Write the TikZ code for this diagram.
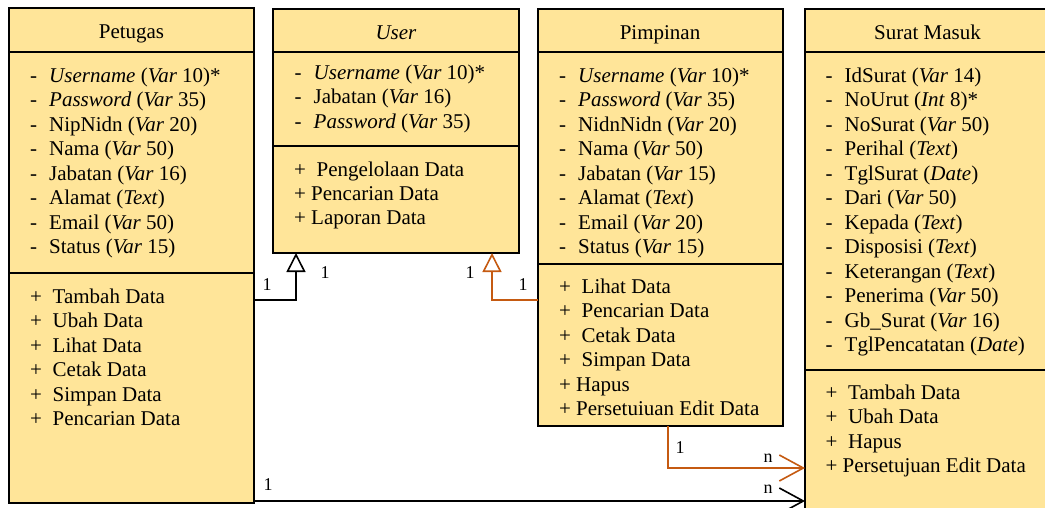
\documentclass[tikz,border=0pt]{standalone}
\usepackage{fontspec}
\setmainfont{Liberation Serif}
\usetikzlibrary{arrows.meta}
\definecolor{boxfill}{HTML}{FFE599}
\definecolor{linkorange}{HTML}{C55A11}
\newcommand\umlattr[1]{\makebox[19pt][l]{-}#1}
\newcommand\umlopw[1]{\makebox[22.5pt][l]{+}#1}
\newcommand\umlopn[1]{\makebox[17pt][l]{+}#1}
\begin{document}
\begin{tikzpicture}[x=1pt,y=-1pt,
  compart/.style={draw, line width=1.6pt, fill=boxfill, anchor=north west, inner sep=0pt, outer sep=0pt},
  txt/.style={anchor=base west, inner sep=0pt, font=\fontsize{21}{24.5}\selectfont},
  head/.style={anchor=base, inner sep=0pt, font=\fontsize{21}{24.5}\selectfont},
  lbl/.style={anchor=base, inner sep=0pt, font=\fontsize{18}{20}\selectfont},
  gen/.style={line width=1.6pt, -{Triangle[open,length=19pt,width=19pt]}},
  assoc/.style={line width=1.6pt, -{Straight Barb[length=24pt,width=26pt]}},
]
\useasboundingbox (0,0) rectangle (1045,507);

% ---------- Petugas ----------
\node[compart, minimum width=245pt, minimum height=44pt] (pet-h) at (9,8) {};
\node[compart, minimum width=245pt, minimum height=221pt] (pet-a) at (9,52) {};
\node[compart, minimum width=245pt, minimum height=230pt] (pet-o) at (9,273) {};
\node[head] (pet-t) at (131.5,38) {Petugas};
\foreach \t [count=\i] in {
  {\textit{Username} (\textit{Var} 10)*},
  {\textit{Password} (\textit{Var} 35)},
  {NipNidn (\textit{Var} 20)},
  {Nama (\textit{Var} 50)},
  {Jabatan (\textit{Var} 16)},
  {Alamat (\textit{Text})},
  {Email (\textit{Var} 50)},
  {Status (\textit{Var} 15)}}
  \node[txt] (pet-a\i) at (30,{82+24.5*(\i-1)}) {\umlattr{\t}};
\foreach \t [count=\i] in {Tambah Data, Ubah Data, Lihat Data, Cetak Data, Simpan Data, Pencarian Data}
  \node[txt] (pet-o\i) at (30,{303+24.5*(\i-1)}) {\umlopw{\t}};

% ---------- User ----------
\node[compart, minimum width=246pt, minimum height=43pt] (user-h) at (273,9) {};
\node[compart, minimum width=246pt, minimum height=94pt] (user-a) at (273,52) {};
\node[compart, minimum width=246pt, minimum height=107pt] (user-o) at (273,146) {};
\node[head] (user-t) at (396,39) {\textit{User}};
\foreach \t [count=\i] in {
  {\textit{Username} (\textit{Var} 10)*},
  {Jabatan (\textit{Var} 16)},
  {\textit{Password} (\textit{Var} 35)}}
  \node[txt] (user-a\i) at (294.5,{79+24.5*(\i-1)}) {\umlattr{\t}};
\node[txt] (user-o1) at (294,176) {\umlopw{Pengelolaan Data}};
\node[txt] (user-o2) at (294,200) {\umlopn{Pencarian Data}};
\node[txt] (user-o3) at (294,224) {\umlopn{Laporan Data}};

% ---------- Pimpinan ----------
\node[compart, minimum width=245pt, minimum height=43pt] (pim-h) at (538,9) {};
\node[compart, minimum width=245pt, minimum height=212pt] (pim-a) at (538,52) {};
\node[compart, minimum width=245pt, minimum height=162pt] (pim-o) at (538,264) {};
\node[head] (pim-t) at (660,39) {Pimpinan};
\foreach \t [count=\i] in {
  {\textit{Username} (\textit{Var} 10)*},
  {\textit{Password} (\textit{Var} 35)},
  {NidnNidn (\textit{Var} 20)},
  {Nama (\textit{Var} 50)},
  {Jabatan (\textit{Var} 15)},
  {Alamat (\textit{Text})},
  {Email (\textit{Var} 20)},
  {Status (\textit{Var} 15)}}
  \node[txt] (pim-a\i) at (559,{82+24.5*(\i-1)}) {\umlattr{\t}};
\foreach \t [count=\i] in {Lihat Data, Pencarian Data, Cetak Data, Simpan Data}
  \node[txt] (pim-o\i) at (559,{293+24.5*(\i-1)}) {\umlopw{\t}};
\node[txt] (pim-o5) at (559,391) {\umlopn{Hapus}};
\node[txt] (pim-o6) at (559,415.5) {\umlopn{Persetuiuan Edit Data}};

% ---------- Surat Masuk ----------
\node[compart, minimum width=250pt, minimum height=43pt] (sm-h) at (805,9) {};
\node[compart, minimum width=250pt, minimum height=318pt] (sm-a) at (805,52) {};
\node[compart, minimum width=250pt, minimum height=150pt] (sm-o) at (805,370) {};
\node[head] (sm-t) at (927.5,39) {Surat Masuk};
\foreach \t [count=\i] in {
  {IdSurat (\textit{Var} 14)},
  {NoUrut (\textit{Int} 8)*},
  {NoSurat (\textit{Var} 50)},
  {Perihal (\textit{Text})},
  {TglSurat (\textit{Date})},
  {Dari (\textit{Var} 50)},
  {Kepada (\textit{Text})},
  {Disposisi (\textit{Text})},
  {Keterangan (\textit{Text})},
  {Penerima (\textit{Var} 50)},
  {Gb\_Surat (\textit{Var} 16)},
  {TglPencatatan (\textit{Date})}}
  \node[txt] (sm-a\i) at (825.5,{82+24.5*(\i-1)}) {\umlattr{\t}};
\foreach \t [count=\i] in {Tambah Data, Ubah Data, Hapus}
  \node[txt] (sm-o\i) at (825.5,{399+24.5*(\i-1)}) {\umlopw{\t}};
\node[txt] (sm-o4) at (825.5,472.5) {\umlopn{Persetujuan Edit Data}};

% ---------- Connectors ----------
\coordinate (g1) at (296,300);
\draw[gen] (g1 -| pet-o.east) -- (g1) -- (g1 |- user-o.south);
\coordinate (g2) at (492,300);
\draw[gen, linkorange] (g2 -| pim-o.west) -- (g2) -- (g2 |- user-o.south);
\coordinate (a1) at (668,468);
\draw[assoc, linkorange] (a1 |- pim-o.south) -- (a1) -- (a1 -| sm-o.west);
\coordinate (a2) at (530,501);
\draw[assoc] (a2 -| pet-o.east) -- (a2 -| sm-o.west);

% ---------- Multiplicities ----------
\node[lbl] (l1) at (267,290) {1};
\node[lbl] (l2) at (325,278) {1};
\node[lbl] (l3) at (470,278) {1};
\node[lbl] (l4) at (523,290) {1};
\node[lbl] (l5) at (680,453) {1};
\node[lbl] (l6) at (768,462) {n};
\node[lbl] (l7) at (768,493) {n};
\node[lbl] (l8) at (268,490) {1};
\end{tikzpicture}
\end{document}
